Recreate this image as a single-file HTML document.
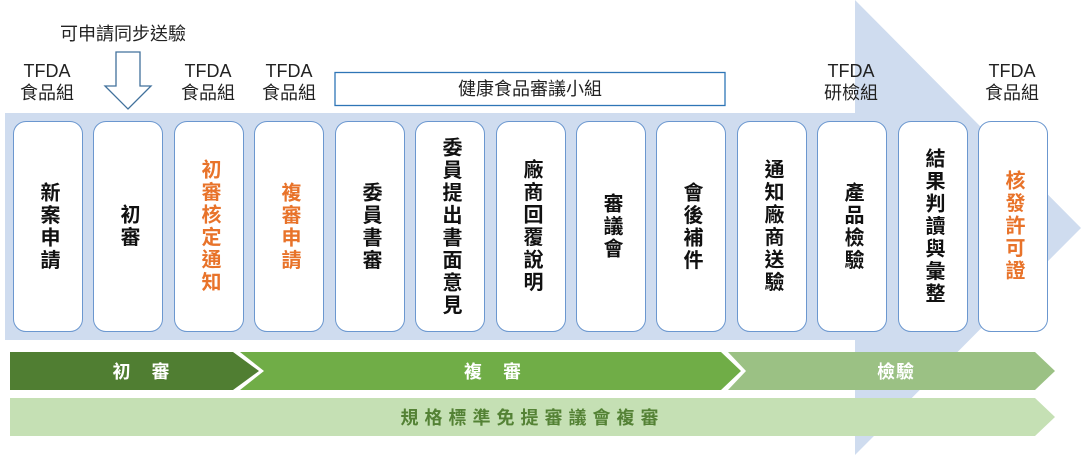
<!DOCTYPE html>
<html><head><meta charset="utf-8"><style>
body{margin:0;width:1081px;height:455px;position:relative;overflow:hidden;background:#fff;font-family:"Liberation Sans","Noto Sans CJK TC",sans-serif;}
.a{position:absolute}
.box{position:absolute;top:121px;width:68px;height:209px;border:1.5px solid #6b97cf;border-radius:13px;background:#fff;display:flex;align-items:center;justify-content:center;}
.v{writing-mode:vertical-rl;text-orientation:upright;font-size:20px;font-weight:bold;line-height:22px;letter-spacing:2.5px;color:#111;}
.o{color:#e8732a;}
.lbl{position:absolute;width:80px;text-align:center;font-size:18px;line-height:22px;color:#222;}
.bar{position:absolute;display:flex;align-items:center;justify-content:center;color:#fff;font-weight:bold;font-size:18px;letter-spacing:8px;}
</style></head><body>
<svg class="a" style="left:0;top:0" width="1081" height="455">
<polygon points="5,113 855,113 855,0 1081,228 855,455 855,340 5,340" fill="#cfdcef"/>
<polygon points="116,52 140,52 140,86 151,86 128,109 105,86 116,86" fill="#fff" stroke="#41719c" stroke-width="1.3"/>
<polygon points="10,352 233,352 259,371 233,390 10,390" fill="#507e32"/>
<polygon points="240,352 721,352 741,371 721,390 240,390 264,371" fill="#70ad47"/>
<polygon points="728,352 1035,352 1055,371 1035,390 728,390 746,371" fill="#9bc184"/>
<polygon points="10,398 1035,398 1055,417 1035,436 10,436" fill="#c5e0b4"/>
<rect x="335" y="72.5" width="390" height="33" fill="#fff" stroke="#2e75b6" stroke-width="1.3"/>
</svg>
<div class="a" style="left:60px;top:20px;font-size:18px;color:#222">可申請同步送驗</div>
<div class="lbl" style="left:7px;top:60px">TFDA<br>食品組</div>
<div class="lbl" style="left:168px;top:60px">TFDA<br>食品組</div>
<div class="lbl" style="left:249px;top:60px">TFDA<br>食品組</div>
<div class="lbl" style="left:811px;top:60px">TFDA<br>研檢組</div>
<div class="lbl" style="left:972px;top:60px">TFDA<br>食品組</div>
<div class="a" style="left:335px;top:72px;width:390px;height:34px;line-height:34px;text-align:center;font-size:18px;color:#222">健康食品審議小組</div>
<div class="box" style="left:13px"><span class="v">新案申請</span></div>
<div class="box" style="left:93px"><span class="v">初審</span></div>
<div class="box" style="left:174px"><span class="v o">初審核定通知</span></div>
<div class="box" style="left:254px"><span class="v o">複審申請</span></div>
<div class="box" style="left:335px"><span class="v">委員書審</span></div>
<div class="box" style="left:415px"><span class="v">委員提出書面意見</span></div>
<div class="box" style="left:496px"><span class="v">廠商回覆說明</span></div>
<div class="box" style="left:576px"><span class="v">審議會</span></div>
<div class="box" style="left:656px"><span class="v">會後補件</span></div>
<div class="box" style="left:737px"><span class="v">通知廠商送驗</span></div>
<div class="box" style="left:817px"><span class="v">產品檢驗</span></div>
<div class="box" style="left:898px"><span class="v">結果判讀與彙整</span></div>
<div class="box" style="left:978px"><span class="v o">核發許可證</span></div>
<div class="bar" style="left:30px;top:352px;width:230px;height:38px">初 審</div>
<div class="bar" style="left:264px;top:352px;width:465px;height:38px">複 審</div>
<div class="bar" style="left:746px;top:352px;width:300px;height:38px;letter-spacing:1px">檢驗</div>
<div class="bar" style="left:10px;top:398px;width:1045px;height:38px;color:#548235;letter-spacing:6px">規格標準免提審議會複審</div>
</body></html>
